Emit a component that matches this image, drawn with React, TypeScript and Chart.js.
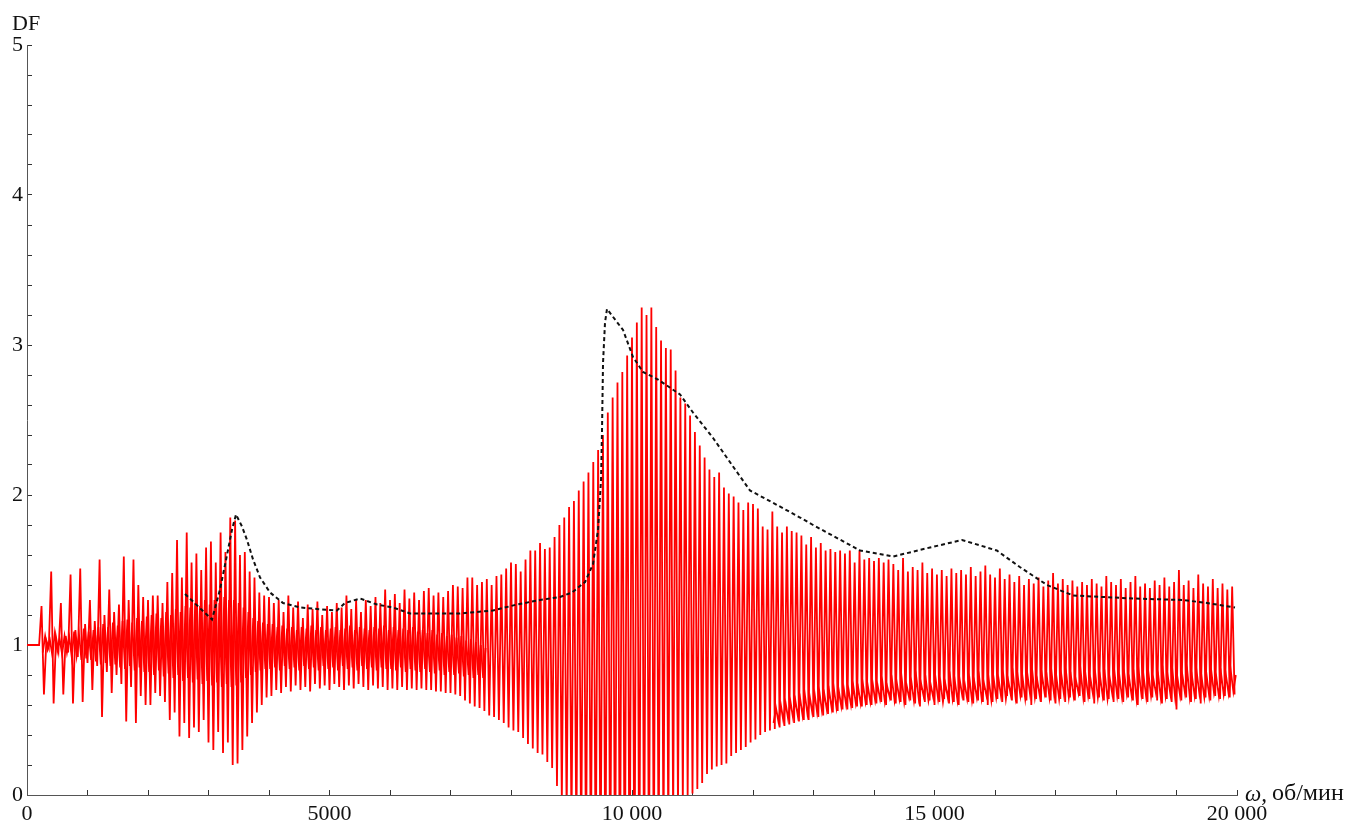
import { useEffect, useRef } from "react";
import { Chart, registerables } from "chart.js";

Chart.register(...registerables);

// Sample spacing of the oscillating response (rpm between successive peaks)
const STEP = 80;
const _ = null;

// Peak values of the red response, one per oscillation (rpm = k*STEP)
const peakDF = [
  1.0, 1.0, 1.0, 1.26, 1.03, 1.49, 1.05, 1.28, 1.06, 1.47, 1.1, 1.51, 1.14, 1.3, 1.16, 1.57, 1.2, 1.37, 1.22, 1.27, 1.59, 1.3, 1.57, 1.4, 1.32,
  1.3, 1.33, 1.33, 1.28, 1.42, 1.48, 1.7, 1.45, 1.75, 1.55, 1.61, 1.5, 1.65, 1.69, 1.55, 1.75, 1.62, 1.85, 1.83, 1.6, 1.62, 1.49, 1.45, 1.35, 1.33,
  1.32, 1.28, 1.3, 1.22, 1.33, 1.25, 1.29, 1.18, 1.27, 1.24, 1.29, 1.2, 1.26, 1.22, 1.28, 1.25, 1.33, 1.24, 1.3, 1.22, 1.3, 1.26, 1.32, 1.28, 1.37,
  1.3, 1.34, 1.28, 1.37, 1.31, 1.35, 1.3, 1.36, 1.38, 1.33, 1.35, 1.32, 1.36, 1.4, 1.39, 1.38, 1.45, 1.45, 1.4, 1.42, 1.44, 1.4, 1.46, 1.47, 1.51,
  1.55, 1.54, 1.49, 1.57, 1.63, 1.63, 1.68, 1.64, 1.65, 1.72, 1.8, 1.85, 1.92, 1.96, 2.03, 2.09, 2.15, 2.22, 2.3, 2.4, 2.55, 2.65, 2.75, 2.82, 2.93,
  3.05, 3.15, 3.25, 3.2, 3.25, 3.12, 3.03, 2.98, 2.97, 2.83, 2.65, 2.61, 2.53, 2.42, 2.33, 2.25, 2.17, 2.12, 2.15, 2.05, 2.01, 1.99, 1.95, 1.9, 1.95,
  1.94, 1.91, 1.79, 1.77, 1.89, 1.79, 1.75, 1.79, 1.76, 1.75, 1.73, 1.67, 1.72, 1.65, 1.68, 1.63, 1.64, 1.62, 1.63, 1.61, 1.63, 1.55, 1.63, 1.57, 1.58,
  1.56, 1.58, 1.55, 1.57, 1.54, 1.5, 1.58, 1.49, 1.52, 1.5, 1.55, 1.48, 1.51, 1.47, 1.5, 1.46, 1.51, 1.48, 1.5, 1.47, 1.52, 1.46, 1.49, 1.53, 1.47,
  1.45, 1.51, 1.44, 1.47, 1.42, 1.46, 1.4, 1.44, 1.41, 1.45, 1.39, 1.43, 1.48, 1.41, 1.44, 1.4, 1.43, 1.39, 1.42, 1.4, 1.44, 1.41, 1.39, 1.46, 1.42,
  1.4, 1.44, 1.38, 1.42, 1.46, 1.39, 1.41, 1.38, 1.43, 1.4, 1.45, 1.39, 1.42, 1.5, 1.4, 1.43, 1.38, 1.47, 1.41, 1.39, 1.44, 1.38, 1.41, 1.37, 1.39,
];

// Trough values of the red response, one per oscillation (rpm = k*STEP + STEP/2)
const troughDF = [
  1.0, 1.0, 1.0, 0.67, 0.98, 0.61, 0.96, 0.67, 0.95, 0.61, 0.92, 0.62, 0.88, 0.7, 0.86, 0.52, 0.82, 0.68, 0.8, 0.74, 0.49, 0.72, 0.48, 0.66, 0.6,
  0.6, 0.68, 0.66, 0.62, 0.5, 0.55, 0.39, 0.48, 0.38, 0.45, 0.42, 0.5, 0.35, 0.3, 0.42, 0.28, 0.35, 0.2, 0.21, 0.3, 0.39, 0.48, 0.55, 0.6, 0.65,
  0.66, 0.7, 0.68, 0.72, 0.69, 0.73, 0.7, 0.72, 0.69, 0.74, 0.71, 0.73, 0.7, 0.74, 0.72, 0.7, 0.73, 0.71, 0.74, 0.72, 0.7, 0.73, 0.71, 0.72, 0.7,
  0.71, 0.7, 0.72, 0.7, 0.71, 0.7, 0.71, 0.7, 0.7, 0.69, 0.69, 0.68, 0.68, 0.67, 0.66, 0.63, 0.61, 0.59, 0.58, 0.56, 0.53, 0.52, 0.5, 0.48, 0.45,
  0.43, 0.42, 0.38, 0.34, 0.31, 0.28, 0.27, 0.22, 0.18, 0.06, -0.04, -0.14, -0.22, -0.3, -0.38, -0.45, -0.5, -0.55, -0.6, -0.65, -0.7, -0.75, -0.8, -0.85, -0.9,
  -0.85, -0.8, -0.75, -0.7, -0.6, -0.5, -0.4, -0.3, -0.2, -0.12, -0.06, -0.02, 0.01, 0.04, 0.08, 0.14, 0.17, 0.19, 0.2, 0.21, 0.26, 0.28, 0.3, 0.32, 0.35,
  0.37, 0.4, 0.42, 0.43, 0.44, 0.45, 0.46, 0.47, 0.48, 0.49, 0.5, 0.5, 0.52, 0.52, 0.53, 0.54, 0.55, 0.56, 0.57, 0.57, 0.58, 0.59, 0.59, 0.6, 0.6,
  0.61, 0.62, 0.6, 0.63, 0.61, 0.62, 0.6, 0.63, 0.61, 0.59, 0.62, 0.63, 0.6, 0.62, 0.64, 0.61, 0.62, 0.6, 0.63, 0.62, 0.61, 0.63, 0.62, 0.6, 0.62,
  0.64, 0.62, 0.66, 0.63, 0.61, 0.65, 0.63, 0.6, 0.64, 0.62, 0.65, 0.63, 0.61, 0.64, 0.62, 0.65, 0.63, 0.66, 0.62, 0.64, 0.61, 0.65, 0.63, 0.64, 0.62,
  0.64, 0.62, 0.65, 0.63, 0.6, 0.64, 0.62, 0.65, 0.63, 0.61, 0.64, 0.62, 0.57, 0.63, 0.65, 0.62, 0.64, 0.61, 0.65, 0.63, 0.66, 0.64, 0.66, 0.65, 0.67,
];

// Smaller inner ripple of the red response (low value at k*STEP + STEP/4, high value at k*STEP + 3*STEP/4)
const innerLoDF = [
  _, _, _, 0.95, 0.97, 0.93, 0.96, 0.94, 0.95, 0.92, 0.93, 0.9, 0.91, 0.9, 0.89, 0.87, 0.88, 0.86, 0.87, 0.85, 0.84, 0.86, 0.83, 0.85, 0.82,
  0.82, 0.8, 0.83, 0.79, 0.81, 0.78, 0.8, 0.76, 0.78, 0.75, 0.77, 0.74, 0.76, 0.73, 0.75, 0.72, 0.74, 0.72, 0.73, 0.75, 0.78, 0.8, 0.82, 0.83, 0.84,
  0.84, 0.85, 0.83, 0.86, 0.84, 0.85, 0.83, 0.86, 0.84, 0.85, 0.83, 0.86, 0.84, 0.85, 0.83, 0.86, 0.84, 0.85, 0.83, 0.86, 0.84, 0.85, 0.83, 0.85, 0.84,
  0.84, 0.83, 0.85, 0.82, 0.84, 0.83, 0.82, 0.84, 0.82, 0.81, 0.83, 0.8, 0.82, 0.8, 0.81, 0.79, 0.8, 0.78, 0.8, 0.78, _, _, _, _, _,
  _, _, _, _, _, _, _, _, _, _, _, _, _, _, _, _, _, _, _, _, _, _, _, _, _,
  _, _, _, _, _, _, _, _, _, _, _, _, _, _, _, _, _, _, _, _, _, _, _, _, _,
  _, _, _, _, 0.48, 0.49, 0.5, 0.51, 0.52, 0.53, 0.53, 0.54, 0.55, 0.55, 0.56, 0.57, 0.58, 0.58, 0.59, 0.6, 0.6, 0.61, 0.61, 0.62, 0.62,
  0.63, 0.64, 0.62, 0.65, 0.63, 0.64, 0.62, 0.65, 0.63, 0.64, 0.66, 0.63, 0.65, 0.64, 0.62, 0.65, 0.64, 0.63, 0.66, 0.64, 0.63, 0.65, 0.64, 0.66, 0.63,
  0.65, 0.66, 0.64, 0.67, 0.65, 0.66, 0.64, 0.67, 0.65, 0.66, 0.68, 0.65, 0.66, 0.64, 0.67, 0.65, 0.66, 0.68, 0.65, 0.66, 0.67, 0.65, 0.66, 0.64, 0.67,
  0.66, 0.65, 0.67, 0.66, 0.64, 0.67, 0.65, 0.66, 0.68, 0.65, 0.66, 0.67, 0.64, 0.66, 0.68, 0.65, 0.66, 0.67, 0.65, 0.66, 0.68, 0.66, 0.67, 0.68, 0.69,
];
const innerHiDF = [
  _, _, _, 1.06, 1.03, 1.08, 1.04, 1.06, 1.05, 1.09, 1.07, 1.11, 1.09, 1.1, 1.12, 1.14, 1.12, 1.15, 1.13, 1.16, 1.17, 1.15, 1.18, 1.16, 1.19,
  1.2, 1.21, 1.18, 1.22, 1.2, 1.24, 1.22, 1.26, 1.25, 1.28, 1.26, 1.3, 1.27, 1.3, 1.28, 1.32, 1.3, 1.3, 1.28, 1.25, 1.22, 1.18, 1.16, 1.15, 1.14,
  1.14, 1.12, 1.13, 1.11, 1.12, 1.1, 1.12, 1.11, 1.13, 1.1, 1.12, 1.1, 1.11, 1.12, 1.1, 1.11, 1.13, 1.1, 1.12, 1.11, 1.1, 1.12, 1.11, 1.13, 1.1,
  1.12, 1.1, 1.11, 1.1, 1.12, 1.09, 1.1, 1.08, 1.1, 1.07, 1.08, 1.06, 1.07, 1.05, 1.06, 1.03, 1.04, 1.02, 1.0, 0.98, _, _, _, _, _,
  _, _, _, _, _, _, _, _, _, _, _, _, _, _, _, _, _, _, _, _, _, _, _, _, _,
  _, _, _, _, _, _, _, _, _, _, _, _, _, _, _, _, _, _, _, _, _, _, _, _, _,
  _, _, _, _, 0.58, 0.6, 0.61, 0.62, 0.63, 0.64, 0.66, 0.65, 0.67, 0.68, 0.67, 0.69, 0.7, 0.69, 0.71, 0.7, 0.72, 0.71, 0.73, 0.72, 0.74,
  0.73, 0.75, 0.72, 0.76, 0.74, 0.77, 0.73, 0.75, 0.78, 0.74, 0.76, 0.73, 0.77, 0.75, 0.74, 0.78, 0.75, 0.76, 0.74, 0.77, 0.75, 0.78, 0.74, 0.76, 0.77,
  0.77, 0.79, 0.76, 0.8, 0.78, 0.77, 0.79, 0.81, 0.76, 0.79, 0.78, 0.8, 0.77, 0.79, 0.8, 0.78, 0.76, 0.81, 0.79, 0.77, 0.8, 0.78, 0.79, 0.77, 0.8,
  0.78, 0.8, 0.77, 0.79, 0.81, 0.78, 0.8, 0.77, 0.79, 0.81, 0.78, 0.8, 0.77, 0.79, 0.82, 0.78, 0.8, 0.77, 0.79, 0.81, 0.78, 0.8, 0.79, 0.82, 0.8,
];

// Dashed black envelope curve
const envRpm = [
  2612, 3058, 3190, 3306, 3389, 3455, 3554, 3637, 3736, 3852, 4017, 4232, 4512, 4793, 5124, 5256, 5504, 5785, 6050, 6331,
  6711, 7157, 7703, 8099, 8480, 8810, 9009, 9224, 9356, 9439, 9488, 9505, 9521, 9554, 9587, 9852, 10017, 10182, 10430, 10794,
  11008, 11340, 11670, 11950, 12230, 12777, 12992, 13770, 14315, 14926, 15455, 16030, 16410, 16860, 17290, 18280, 19108, 19504, 19967,
];
const envDF = [
  1.34, 1.17, 1.37, 1.6, 1.77, 1.87, 1.79, 1.7, 1.57, 1.45, 1.35, 1.28, 1.25, 1.24, 1.23, 1.28, 1.31, 1.27, 1.25, 1.21,
  1.21, 1.21, 1.23, 1.27, 1.3, 1.32, 1.35, 1.42, 1.54, 1.77, 2.1, 2.45, 2.88, 3.15, 3.24, 3.1, 2.92, 2.82, 2.77, 2.67,
  2.55, 2.38, 2.19, 2.03, 1.97, 1.85, 1.8, 1.63, 1.59, 1.65, 1.7, 1.63, 1.52, 1.4, 1.33, 1.31, 1.3, 1.28, 1.25,
];

// Axis tick labels
const xLabelValues = [0, 5000, 10000, 15000, 20000];
const xLabelTexts = ["0", "5000", "10 000", "15 000", "20 000"];
const yLabelValues = [0, 1, 2, 3, 4, 5];
const yLabelTexts = ["0", "1", "2", "3", "4", "5"];

const yTitle = "DF";
const xTitleSymbol = "ω,";
const xTitleUnit = "об/мин";

const FONT_FAMILY = '"Liberation Serif", "Times New Roman", serif';

export default function App() {
  const canvasRef = useRef<HTMLCanvasElement | null>(null);

  useEffect(() => {
    const canvas = canvasRef.current;
    if (!canvas) return;

    const redPoints: { x: number; y: number }[] = [];
    const innerPoints: { x: number; y: number | null }[] = [];
    for (let k = 0; k < peakDF.length; k++) {
      redPoints.push({ x: k * STEP, y: peakDF[k] });
      redPoints.push({ x: k * STEP + STEP / 2, y: troughDF[k] });
      innerPoints.push({ x: k * STEP + STEP / 4, y: innerLoDF[k] });
      innerPoints.push({ x: k * STEP + (3 * STEP) / 4, y: innerHiDF[k] });
    }
    const envPoints = envRpm.map((x, i) => ({ x, y: envDF[i] }));

    const titlesPlugin = {
      id: "axisTitles",
      afterDraw(chart: any) {
        const ctx = chart.ctx as CanvasRenderingContext2D;
        const area = chart.chartArea;
        ctx.save();
        ctx.fillStyle = "#111";
        ctx.textBaseline = "middle";
        ctx.textAlign = "left";
        ctx.font = `22px ${FONT_FAMILY}`;
        ctx.fillText(yTitle, area.left - 15, area.top - 21);
        ctx.font = `italic 23px ${FONT_FAMILY}`;
        const x0 = area.right + 8;
        ctx.fillText(xTitleSymbol, x0, area.bottom);
        const w = ctx.measureText(xTitleSymbol).width;
        ctx.font = `24px ${FONT_FAMILY}`;
        ctx.fillText(xTitleUnit, x0 + w + 5, area.bottom - 1);
        ctx.restore();
      },
    };

    const tickFont = { family: FONT_FAMILY, size: 22 };

    const chart = new Chart(canvas, {
      type: "scatter",
      data: {
        datasets: [
          {
            label: "envelope",
            data: envPoints,
            showLine: true,
            borderColor: "#111",
            borderWidth: 2,
            borderDash: [4, 3],
            pointRadius: 0,
            tension: 0,
          },
          {
            label: "DF",
            data: redPoints,
            showLine: true,
            borderColor: "#ff0000",
            borderWidth: 1.8,
            pointRadius: 0,
            tension: 0,
          },
          {
            label: "DF ripple",
            data: innerPoints,
            showLine: true,
            spanGaps: false,
            borderColor: "#ff0000",
            borderWidth: 1.8,
            pointRadius: 0,
            tension: 0,
          },
        ],
      },
      options: {
        responsive: false,
        animation: false,
        events: [],
        layout: { padding: { left: 0, top: 45, right: 117, bottom: 0 } },
        plugins: { legend: { display: false }, tooltip: { enabled: false } },
        scales: {
          x: {
            type: "linear",
            min: 0,
            max: 20000,
            afterFit: (s: any) => {
              s.height = 25;
            },
            border: { color: "#555", width: 1 },
            grid: { drawOnChartArea: false, tickLength: -5, color: "#333", lineWidth: 1 },
            ticks: {
              stepSize: 1000,
              autoSkip: false,
              maxRotation: 0,
              padding: 11,
              color: "#111",
              font: tickFont,
              callback: (v: any) => {
                const i = xLabelValues.indexOf(Number(v));
                return i >= 0 ? xLabelTexts[i] : "";
              },
            },
          },
          y: {
            type: "linear",
            min: 0,
            max: 5,
            afterFit: (s: any) => {
              s.width = 27;
            },
            border: { color: "#555", width: 1 },
            grid: { drawOnChartArea: false, tickLength: -5, color: "#333", lineWidth: 1 },
            ticks: {
              stepSize: 0.2,
              autoSkip: false,
              padding: 9,
              color: "#111",
              font: tickFont,
              callback: (v: any) => {
                const n = Number(v);
                const i = yLabelValues.findIndex((t) => Math.abs(t - n) < 1e-6);
                return i >= 0 ? yLabelTexts[i] : "";
              },
            },
          },
        },
      },
      plugins: [titlesPlugin],
    } as any);

    return () => chart.destroy();
  }, []);

  return (
    <div style={{ position: "fixed", left: 0, top: 0, width: 1354, height: 820, background: "#fff" }}>
      <canvas ref={canvasRef} width={1354} height={820} style={{ display: "block" }} />
    </div>
  );
}
